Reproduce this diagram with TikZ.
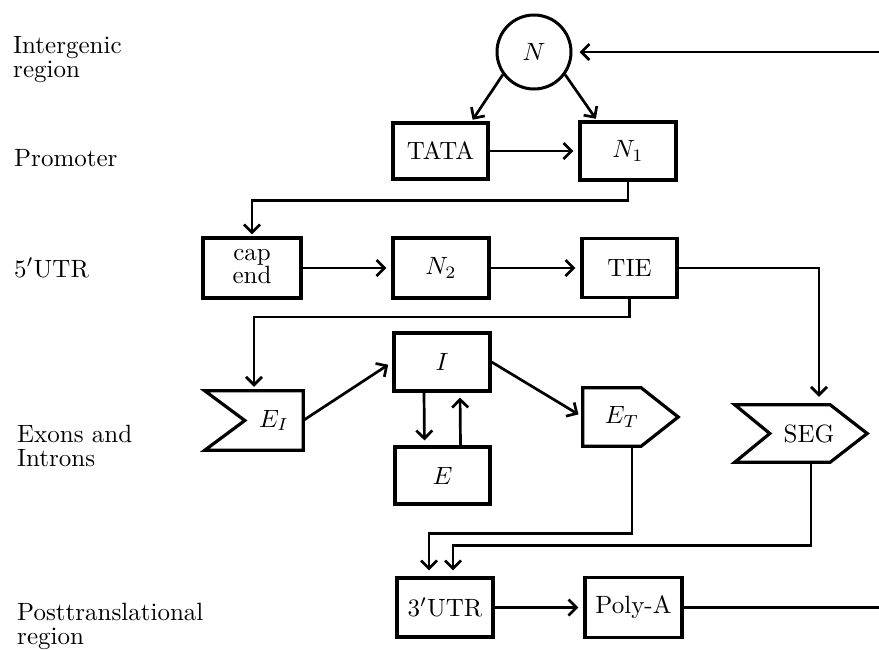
\documentclass[tikz,border=0pt]{standalone}
\usetikzlibrary{arrows.meta,calc}
\newcommand{\bt}[1]{\scalebox{2.5}{\fontsize{10}{9.6}\selectfont #1}}
\newcommand{\twoline}[2]{\bt{\begin{tabular}[t]{@{}l@{}}#1\\#2\end{tabular}}}
\begin{document}
\begin{tikzpicture}[x=1pt,y=-1pt,
  box/.style={draw, line width=3.2pt, inner sep=0pt, minimum width=96pt, minimum height=58pt},
  ghost/.style={inner sep=0pt, minimum width=96pt, minimum height=58pt},
  conn/.style={line width=2.7pt, line join=miter},
  arr/.style={conn, -{Straight Barb[length=8pt,width=16pt,line width=2.7pt]}, shorten >=5pt},
  shp/.style={line width=3.2pt, line join=miter},
  lab/.style={anchor=base west, inner sep=0pt}
]
\useasboundingbox (0,0) rectangle (879,649);

% labels
\node[lab] (L1) at (13,53) {\twoline{Intergenic}{region}};
\node[lab] (L2) at (14,166) {\bt{Promoter}};
\node[lab] (L3) at (14,277) {\bt{5$'$UTR}};
\node[lab] (L4) at (17,442) {\twoline{Exons and}{Introns}};
\node[lab] (L5) at (17,620) {\twoline{Posttranslational}{region}};

% nodes
\node[draw, circle, line width=3pt, minimum size=74pt, inner sep=0pt] (N) at (534,52) {\bt{$N$}};
\node[box, minimum width=95pt, minimum height=56pt] (TATA) at (440.5,151) {\bt{TATA}};
\node[box, minimum height=58pt] (N1) at (628,151) {\bt{$N_1$}};
\node[box, minimum width=98pt, minimum height=60pt] (cap) at (252,268) {\scalebox{2.5}{\fontsize{10}{7.8}\selectfont\begin{tabular}{@{}c@{}}cap\\end\end{tabular}}};
\node[box, minimum height=60pt] (N2) at (441,268) {\bt{$N_2$}};
\node[box, minimum width=95pt, minimum height=59pt] (TIE) at (629.5,268) {\bt{TIE}};
\node[box] (I) at (442,362) {\bt{$I$}};
\node[box, minimum width=95pt, minimum height=57pt] (E) at (442.5,475.5) {\bt{$E$}};
\node[box, minimum height=59pt] (UTR3) at (445,607.5) {\bt{3$'$UTR}};
\node[box, minimum width=97pt, minimum height=60pt] (PolyA) at (633.5,607.5) {\bt{Poly-A}};

% E_I shape
\node[ghost, minimum width=98pt, minimum height=59pt] (EI) at (254,420.5) {};
\draw[shp] (EI.north west) -- (EI.north east) -- (EI.south east) -- (EI.south west) -- ($(EI.west)+(40,0)$) -- cycle;
\node (EItext) at (274,420.5) {\bt{$E_I$}};

% E_T shape
\node[ghost, minimum width=95pt, minimum height=58pt] (ET) at (630.5,417) {};
\draw[shp] (ET.north west) -- ($(ET.north east)+(-37,0)$) -- (ET.east) -- ($(ET.south east)+(-37,0)$) -- (ET.south west) -- cycle;
\node (ETtext) at (622,417) {\bt{$E_T$}};

% SEG shape
\node[ghost, minimum width=132pt, minimum height=57pt] (SEG) at (801,433.5) {};
\draw[shp] (SEG.north west) -- ($(SEG.north east)+(-37,0)$) -- (SEG.east) -- ($(SEG.south east)+(-37,0)$) -- (SEG.south west) -- ($(SEG.west)+(35,0)$) -- cycle;
\node (SEGtext) at (809,433.5) {\bt{SEG}};

% edge coordinates
\coordinate (rtop) at (879,52);
\coordinate (rbot) at (879,607.5);

% connectors
\draw[arr, shorten >=7pt] (rtop) -- (N);
\draw[arr, shorten >=2pt] (N.216) -- ($(TATA.north)+(31,0)$);
\draw[arr, shorten >=2pt] (N.324) -- ($(N1.north)+(-31,0)$);
\draw[arr] (TATA) -- (N1);
\draw[arr, shorten >=2pt] (N1.south) -- ++(0,19) -| (cap.north);
\draw[arr] (cap) -- (N2);
\draw[arr] (N2) -- (TIE);
\draw[arr, shorten >=8pt] (TIE.east) -| ($(SEG.north)+(18,0)$);
\draw[arr, shorten >=4pt] (TIE.south) -- ++(0,18) -| (EI.north);
\draw[arr] (EI.east) -- (I.west);
\draw[arr] (I.east) -- (ET.west);
\draw[arr] ($(I.south)+(-18,0)$) -- ($(E.north)+(-18,0)$);
\draw[arr] ($(E.north)+(18,0)$) -- ($(I.south)+(18,0)$);
\draw[arr, shorten >=6pt] ($(ET.south)+(1.5,0)$) -- ++(0,87) -| ($(UTR3.north)+(-16,0)$);
\draw[arr, shorten >=6pt] ($(SEG.south)+(10,0)$) -- ++(0,83) -| ($(UTR3.north)+(8,0)$);
\draw[arr] (UTR3) -- (PolyA);
\draw[conn] (PolyA.east) -- (rbot);
\end{tikzpicture}
\end{document}
